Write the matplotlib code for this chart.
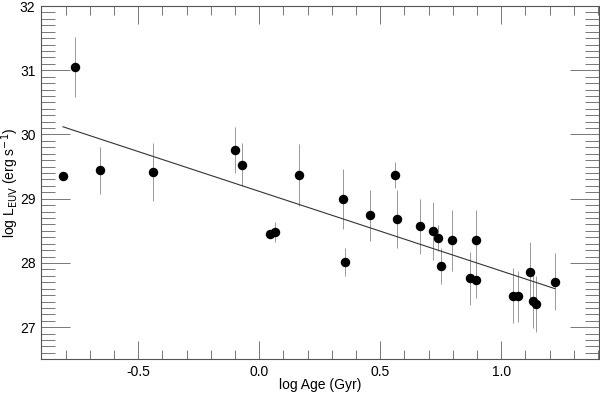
import matplotlib.pyplot as plt
import numpy as np
from matplotlib.ticker import MultipleLocator

plt.rcParams['font.family'] = ['Liberation Sans', 'DejaVu Sans']

# log age (Gyr), log L_EUV (erg/s) and error bar half-lengths
log_age = np.array([-0.811, -0.762, -0.658, -0.439, -0.100, -0.071, 0.044, 0.064,
                    0.164, 0.346, 0.354, 0.457, 0.560, 0.569, 0.664, 0.717, 0.740,
                    0.750, 0.798, 0.871, 0.894, 0.894, 1.050, 1.070, 1.117, 1.130,
                    1.142, 1.223])
log_leuv = np.array([29.36, 31.05, 29.44, 29.41, 29.76, 29.53, 28.45, 28.48,
                     29.37, 29.00, 28.02, 28.74, 29.37, 28.69, 28.57, 28.50, 28.39,
                     27.96, 28.35, 27.76, 27.73, 28.36, 27.49, 27.48, 27.86, 27.41,
                     27.36, 27.71])
err = np.array([0.0, 0.46, 0.37, 0.45, 0.36, 0.33, 0.0, 0.15,
                0.48, 0.47, 0.22, 0.40, 0.20, 0.45, 0.43, 0.45, 0.20,
                0.28, 0.47, 0.41, 0.27, 0.47, 0.43, 0.40, 0.47, 0.43,
                0.43, 0.45])

# fitted relation (end points)
fit_x = [-0.811, 1.222]
fit_y = [30.12, 27.60]

fig = plt.figure(figsize=(6, 3.93), dpi=100)
ax = fig.add_axes([0.0683, 0.0857, 0.93, 0.899])

ax.errorbar(log_age, log_leuv, yerr=err, fmt='none', ecolor='#999999',
            elinewidth=0.7, capsize=0)
ax.plot(log_age, log_leuv, 'o', color='black', markersize=5.8)
ax.plot(fit_x, fit_y, color='#333333', lw=0.8)

ax.set_xlim(-0.902, 1.404)
ax.set_ylim(26.5, 32)
ax.xaxis.set_major_locator(MultipleLocator(0.5))
ax.xaxis.set_minor_locator(MultipleLocator(0.1))
ax.yaxis.set_major_locator(MultipleLocator(1))
ax.yaxis.set_minor_locator(MultipleLocator(0.1))
ax.xaxis.set_major_formatter(plt.FuncFormatter(lambda v, p: '%.1f' % v))

ax.tick_params(axis='both', which='both', direction='in', top=True, right=True,
               color='#777777', width=0.7, labelsize=10, pad=4)
ax.tick_params(axis='x', which='major', length=13)
ax.tick_params(axis='x', which='minor', length=6.5)
ax.tick_params(axis='y', which='major', length=21)
ax.tick_params(axis='y', which='minor', length=10)
for s in ax.spines.values():
    s.set_color('#555555')
    s.set_linewidth(0.8)

ax.set_xlabel('log Age (Gyr)', fontsize=10, va='center')
ax.set_ylabel(r'log L$_{\rm EUV}$ (erg s$^{-1}$)', fontsize=10, va='center')
ax.xaxis.set_label_coords(0.5, -0.073)
ax.yaxis.set_label_coords(-0.055, 0.5)

plt.savefig('out.png', dpi=100)
